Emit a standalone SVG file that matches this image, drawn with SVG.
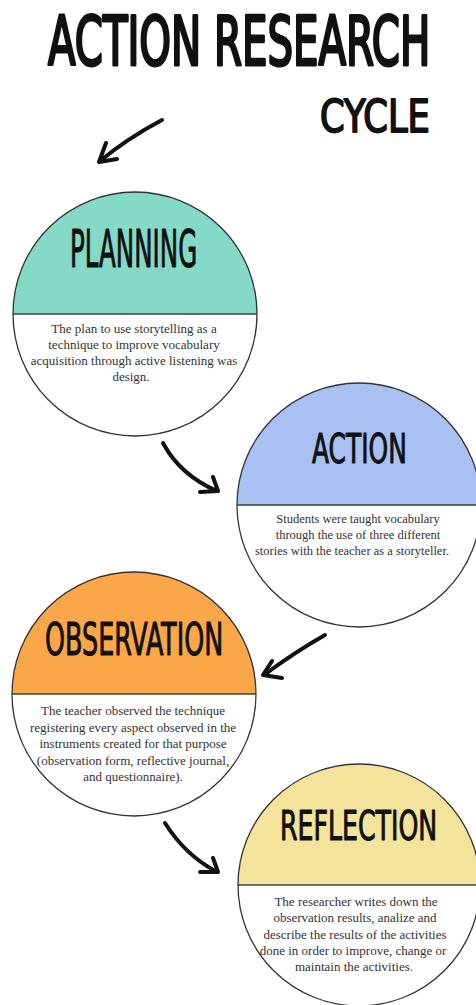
<svg xmlns="http://www.w3.org/2000/svg" width="476" height="1005" viewBox="0 0 476 1005">
<style>
.head{font-family:"DejaVu Sans Condensed","DejaVu Sans",sans-serif;font-weight:normal;fill:#111;stroke:#111;stroke-width:1;stroke-linejoin:round;text-anchor:start}
.title{stroke-width:3}
.sub{stroke-width:1.8}
.body{font-family:"Liberation Serif","Times New Roman",serif;fill:#333;text-anchor:middle;font-size:13px}
.ring{fill:none;stroke:#333;stroke-width:1.3}
.div{stroke:#3a3f4a;stroke-width:1.6}
.arrow{fill:none;stroke:#111;stroke-width:4;stroke-linecap:round;stroke-linejoin:round}
</style>
<rect width="476" height="1005" fill="#fff"/>
<g id="title">
<text class="head title" transform="translate(48,65) scale(0.6,1)" x="0" y="0" font-size="68" textLength="637" lengthAdjust="spacingAndGlyphs">ACTION RESEARCH</text>
<text class="head sub" transform="translate(320,132) scale(0.6,1)" x="0" y="0" font-size="44" textLength="183" lengthAdjust="spacingAndGlyphs">CYCLE</text>
</g>
<g id="connectors">
<path class="arrow" d="M162,120 Q128,138 100,161"/>
<path class="arrow" d="M106,143 L99,162 L117,159"/>
<path class="arrow" d="M163,443 Q180,475 217,491"/>
<path class="arrow" d="M200,492 L218,491 L213,477"/>
<path class="arrow" d="M325,635 Q295,652 264,675"/>
<path class="arrow" d="M272,661 L263,675 L282,678"/>
<path class="arrow" d="M165,823 Q185,855 217,872"/>
<path class="arrow" d="M200,872 L218,872 L213,858"/>
</g>
<g id="planning">
<circle cx="135" cy="314" r="122" fill="#fff"/>
<path d="M13,314 A122,122 0 0 1 257,314 Z" fill="#85d9c7"/>
<circle class="ring" cx="135" cy="314" r="122"/>
<line class="div" x1="13" y1="314" x2="257" y2="314"/>
<text class="head" transform="translate(70,267) scale(0.6,1)" x="0" y="0" font-size="51" textLength="212" lengthAdjust="spacingAndGlyphs">PLANNING</text>
<text class="body"><tspan x="134" y="333">The plan to use storytelling as a</tspan><tspan x="134" y="349">technique to improve vocabulary</tspan><tspan x="134" y="365">acquisition through active listening was</tspan><tspan x="131" y="381">design.</tspan></text>
</g>
<g id="action">
<circle cx="359" cy="505" r="122" fill="#fff"/>
<path d="M237,505 A122,122 0 0 1 481,505 Z" fill="#a8c1f2"/>
<circle class="ring" cx="359" cy="505" r="122"/>
<line class="div" x1="237" y1="505" x2="481" y2="505"/>
<text class="head" transform="translate(312,463) scale(0.6,1)" x="0" y="0" font-size="41" textLength="158" lengthAdjust="spacingAndGlyphs">ACTION</text>
<text class="body" style="font-size:12.5px"><tspan x="358" y="523">Students were taught vocabulary</tspan><tspan x="358" y="539">through the use of three different</tspan><tspan x="352" y="555">stories with the teacher as a storyteller.</tspan></text>
</g>
<g id="observation">
<circle cx="134" cy="694" r="122" fill="#fff"/>
<path d="M12,694 A122,122 0 0 1 256,694 Z" fill="#f9a748"/>
<circle class="ring" cx="134" cy="694" r="122"/>
<line class="div" x1="12" y1="694" x2="256" y2="694"/>
<text class="head" transform="translate(45,655) scale(0.6,1)" x="0" y="0" font-size="44" textLength="297" lengthAdjust="spacingAndGlyphs">OBSERVATION</text>
<text class="body"><tspan x="133" y="715">The teacher observed the technique</tspan><tspan x="133" y="732">registering every aspect observed in the</tspan><tspan x="133" y="748">instruments created for that purpose</tspan><tspan x="133" y="765">(observation form, reflective journal,</tspan><tspan x="133" y="781">and questionnaire).</tspan></text>
</g>
<g id="reflection">
<circle cx="359" cy="885" r="121" fill="#fff"/>
<path d="M238,885 A121,121 0 0 1 480,885 Z" fill="#f4e39b"/>
<circle class="ring" cx="359" cy="885" r="121"/>
<line class="div" x1="238" y1="885" x2="480" y2="885"/>
<text class="head" transform="translate(280,840) scale(0.6,1)" x="0" y="0" font-size="40" textLength="262" lengthAdjust="spacingAndGlyphs">REFLECTION</text>
<text class="body"><tspan x="356" y="906">The researcher writes down the</tspan><tspan x="355" y="922">observation results, analize and</tspan><tspan x="355" y="939">describe the results of the activities</tspan><tspan x="353" y="955">done in order to improve, change or</tspan><tspan x="354" y="971">maintain the activities.</tspan></text>
</g>
</svg>
